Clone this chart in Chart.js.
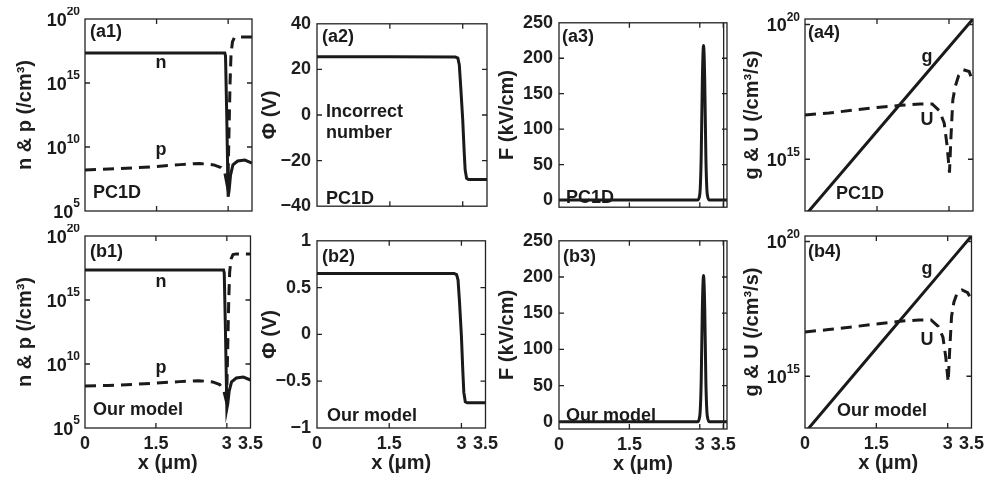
<!DOCTYPE html>
<html>
<head>
<meta charset="utf-8">
<script src="https://cdn.jsdelivr.net/npm/chart.js@4.4.1/dist/chart.umd.min.js"></script>
<style>
  body { margin: 0; width: 990px; height: 485px; overflow: hidden; background: #fff; position: relative; }
  canvas { position: absolute; }
</style>
</head>
<body>
<script>
// x ticks shared by every panel
const xTicks = [0, 1.5, 3, 3.5];

// (a1) PC1D carrier densities
const xA1n = [0, 1.5, 2.93, 2.945, 2.97, 3.0, 3.02, 3.05, 3.1, 3.2, 3.35, 3.5];
const nA1 = [2.2e17, 2.2e17, 2.2e17, 1.3e17, 4e12, 1.3e6, 4e6, 6.3e7, 4e8, 8e8, 9.5e8, 5.6e8];
const xA1p = [0, 0.5, 1.0, 1.5, 2.0, 2.4, 2.7, 2.85, 2.93, 2.97, 3.0, 3.02, 3.04, 3.06, 3.09, 3.13, 3.2, 3.5];
const pA1 = [1.6e8, 1.9e8, 2.3e8, 3.0e8, 4.2e8, 5.2e8, 4.0e8, 2.5e8, 1.0e8, 1.6e7, 1.0e8, 3.2e11, 1.0e15, 1.6e17, 1.6e18, 3.5e18, 4.0e18, 4.0e18];
// (b1) our model
const nB1 = [2.2e17, 2.2e17, 2.2e17, 1.3e17, 5e12, 3.2e6, 8e6, 8e7, 4e8, 8e8, 9.5e8, 5.6e8];
const pB1 = [1.9e8, 2.1e8, 2.5e8, 3.2e8, 4.2e8, 5.0e8, 4.0e8, 2.5e8, 1.0e8, 2.5e7, 1.0e8, 3.2e11, 1.0e15, 1.6e17, 1.6e18, 3.5e18, 4.0e18, 4.0e18];

// (a2)/(b2) potential
const xPhi = [0, 1.5, 2.85, 2.9, 2.93, 2.96, 3.0, 3.03, 3.05, 3.08, 3.12, 3.5];
const phiA2 = [25.5, 25.5, 25.4, 25.0, 22.0, 12.0, -2.0, -16.0, -24.0, -27.8, -28.3, -28.3];
const phiB2 = [0.65, 0.65, 0.65, 0.64, 0.58, 0.35, -0.02, -0.4, -0.62, -0.72, -0.73, -0.73];

// (a3)/(b3) field
const xF = [0, 2.95, 3.0, 3.03, 3.055, 3.08, 3.105, 3.13, 3.16, 3.21, 3.58];
const fA3 = [0, 0, 8, 60, 170, 218, 170, 60, 8, 0, 0];
const fB3 = [0, 0, 8, 55, 158, 202, 158, 55, 8, 0, 0];

// (a4)/(b4) generation and recombination
const xG = [0, 1.5, 3.0, 3.5];
const gA4 = [8.1e12, 1.1e16, 1.45e19, 1.6e20];
const xU = [0, 0.5, 1.0, 1.5, 2.0, 2.4, 2.65, 2.8, 2.9, 2.96, 3.01, 3.04, 3.08, 3.13, 3.2, 3.3, 3.42, 3.5];
const uA4 = [4.4e16, 5.2e16, 6.6e16, 8.3e16, 1.0e17, 1.12e17, 1.12e17, 6.3e16, 2.2e16, 3.2e15, 3.2e14, 6.3e15, 1.6e17, 5.0e17, 1.26e18, 2.1e18, 1.8e18, 7.1e17];
const uB4 = [4.4e16, 5.4e16, 6.8e16, 8.7e16, 1.1e17, 1.23e17, 1.23e17, 7.1e16, 2.8e16, 5.0e15, 6.2e14, 7.9e15, 1.6e17, 5.6e17, 1.26e18, 1.6e18, 1.26e18, 6.8e17];

const FONT = "'Liberation Sans', Arial, Helvetica, sans-serif";
Chart.defaults.font.family = FONT;
Chart.defaults.color = '#1e1e1e';
const INK = '#1a1a1a';

const signLabel = v => (v < 0 ? '\u2212' : '') + Math.abs(v);

function pts(xs, ys) { return xs.map((x, i) => ({ x: x, y: ys[i] })); }
function solid(xs, ys, extra) {
  return Object.assign({ data: pts(xs, ys), borderColor: INK, borderWidth: 3, pointRadius: 0, tension: 0 }, extra || {});
}
function dashed(xs, ys) {
  return solid(xs, ys, { borderDash: [11, 7], borderWidth: 3 });
}

// box, inward ticks, power-of-ten labels and in-plot labels
const framePlugin = {
  id: 'frame',
  afterDraw(chart, args, opts) {
    const { ctx, chartArea: a, scales } = chart;
    ctx.save();
    ctx.strokeStyle = '#222';
    ctx.lineWidth = 1.3;
    ctx.strokeRect(a.left, a.top, a.right - a.left, a.bottom - a.top);
    ctx.beginPath();
    scales.x.ticks.forEach(t => {
      const px = scales.x.getPixelForValue(t.value);
      if (px <= a.left + 1 || px >= a.right - 1) return;
      ctx.moveTo(px, a.bottom); ctx.lineTo(px, a.bottom - 5);
      ctx.moveTo(px, a.top); ctx.lineTo(px, a.top + 5);
    });
    scales.y.ticks.forEach(t => {
      const py = scales.y.getPixelForValue(t.value);
      if (py <= a.top + 1 || py >= a.bottom - 1) return;
      ctx.moveTo(a.left, py); ctx.lineTo(a.left + 5, py);
      ctx.moveTo(a.right, py); ctx.lineTo(a.right - 5, py);
    });
    ctx.stroke();
    ctx.fillStyle = INK;
    ctx.textBaseline = 'middle';
    if (opts.powers) {
      ctx.textAlign = 'right';
      scales.y.ticks.forEach(t => {
        const py = scales.y.getPixelForValue(t.value);
        const e = String(Math.round(Math.log10(t.value)));
        ctx.font = 'bold 12px ' + FONT;
        const ew = ctx.measureText(e).width;
        ctx.fillText(e, a.left - 5, py - 7);
        ctx.font = 'bold 18px ' + FONT;
        ctx.fillText('10', a.left - 5 - ew, py + 2);
      });
    }
    ctx.font = 'bold 18px ' + FONT;
    (opts.notes || []).forEach(n => {
      ctx.textAlign = n.c ? 'center' : 'left';
      ctx.fillText(n.t, a.left + n.x, a.top + n.y);
    });
    ctx.restore();
  }
};

function panel(p) {
  const W = p.left - p.titleX + 16;
  const padTop = 12, padRight = 16;
  const axisH = p.bottom ? 51 : 0;
  const padBottom = p.bottom ? 0 : 12;
  const isLog = p.yType === 'logarithmic';
  const cw = W + p.w + padRight, ch = padTop + p.h + axisH + padBottom;
  const cv = document.createElement('canvas');
  cv.width = cw; cv.height = ch;
  cv.style.left = (p.left - W) + 'px';
  cv.style.top = (p.top - padTop) + 'px';
  document.body.appendChild(cv);

  const xGrid = p.line35
    ? { display: true, drawTicks: false, lineWidth: 1.3, color: c => (c.tick && c.tick.value === 3.5 ? '#222' : 'rgba(0,0,0,0)') }
    : { display: false, drawTicks: false };

  new Chart(cv.getContext('2d'), {
    type: 'line',
    data: { datasets: p.datasets },
    options: {
      responsive: false,
      animation: false,
      devicePixelRatio: 1,
      layout: { padding: { top: padTop, right: padRight, bottom: padBottom, left: 0 } },
      plugins: { legend: { display: false }, tooltip: { enabled: false }, frame: { notes: p.notes, powers: isLog } },
      scales: {
        x: {
          type: 'linear', min: 0, max: p.xMax || 3.5,
          afterBuildTicks: s => { s.ticks = xTicks.map(v => ({ value: v })); },
          afterFit: s => { s.height = axisH; },
          ticks: { display: p.bottom, padding: 5, maxRotation: 0, autoSkip: false, font: { size: 18, weight: 'bold' } },
          grid: xGrid,
          border: { display: false },
          title: { display: p.bottom, text: 'x (μm)', font: { size: 20, weight: 'bold' }, padding: { top: 0, bottom: 4 } }
        },
        y: {
          type: p.yType, min: p.yMin, max: p.yMax,
          afterBuildTicks: s => { s.ticks = p.yTicks.map(v => ({ value: v })); },
          afterFit: s => { s.width = W; },
          ticks: { display: !isLog, padding: 6, autoSkip: false, font: { size: 18, weight: 'bold' }, callback: signLabel },
          grid: { display: false, drawTicks: false },
          border: { display: false },
          title: { display: true, text: p.title, font: { size: 20, weight: 'bold' }, padding: { top: 4, bottom: 0 } }
        }
      }
    },
    plugins: [framePlugin]
  });
}

const logTicks1 = [1e5, 1e10, 1e15, 1e20];
const logTicks4 = [1e15, 1e20];
const phiTicksA = [-40, -20, 0, 20, 40];
const phiTicksB = [-1, -0.5, 0, 0.5, 1];
const fTicks = [0, 50, 100, 150, 200, 250];

// top row: PC1D
panel({ left: 85, top: 19, w: 167, h: 192, titleX: 25, bottom: false,
  yType: 'logarithmic', yMin: 1e5, yMax: 1e20, yTicks: logTicks1, title: 'n & p (/cm³)',
  datasets: [dashed(xA1p, pA1), solid(xA1n, nA1)],
  notes: [{ t: '(a1)', x: 5, y: 13 }, { t: 'n', x: 76, y: 44, c: 1 }, { t: 'p', x: 76, y: 131, c: 1 }, { t: 'PC1D', x: 8, y: 174 }] });

panel({ left: 317, top: 19, w: 170, h: 192, titleX: 270, bottom: false,
  yType: 'linear', yMin: -40, yMax: 40, yTicks: phiTicksA, title: 'Φ (V)',
  datasets: [solid(xPhi, phiA2)],
  notes: [{ t: '(a2)', x: 5, y: 13 }, { t: 'Incorrect', x: 9, y: 88 }, { t: 'number', x: 9, y: 109 }, { t: 'PC1D', x: 9, y: 175 }] });

panel({ left: 559, top: 18, w: 168, h: 194, titleX: 507, bottom: false, xMax: 3.58, line35: true,
  yType: 'linear', yMin: -10, yMax: 250, yTicks: fTicks, title: 'F (kV/cm)',
  datasets: [solid(xF, fA3, { cubicInterpolationMode: 'monotone' })],
  notes: [{ t: '(a3)', x: 3, y: 14 }, { t: 'PC1D', x: 7, y: 175 }] });

panel({ left: 805, top: 19, w: 168, h: 192, titleX: 752, bottom: false,
  yType: 'logarithmic', yMin: 1.2e13, yMax: 1.6e20, yTicks: logTicks4, title: 'g & U (/cm³/s)',
  datasets: [dashed(xU, uA4), solid(xG, gA4)],
  notes: [{ t: '(a4)', x: 3, y: 14 }, { t: 'g', x: 122, y: 38, c: 1 }, { t: 'U', x: 122, y: 101, c: 1 }, { t: 'PC1D', x: 31, y: 175 }] });

// bottom row: our model
panel({ left: 85, top: 236, w: 167, h: 192, titleX: 25, bottom: true,
  yType: 'logarithmic', yMin: 1e5, yMax: 1e20, yTicks: logTicks1, title: 'n & p (/cm³)',
  datasets: [dashed(xA1p, pB1), solid(xA1n, nB1)],
  notes: [{ t: '(b1)', x: 5, y: 16 }, { t: 'n', x: 76, y: 46, c: 1 }, { t: 'p', x: 76, y: 132, c: 1 }, { t: 'Our model', x: 8, y: 174 }] });

panel({ left: 317, top: 236, w: 170, h: 192, titleX: 270, bottom: true,
  yType: 'linear', yMin: -1, yMax: 1, yTicks: phiTicksB, title: 'Φ (V)',
  datasets: [solid(xPhi, phiB2)],
  notes: [{ t: '(b2)', x: 5, y: 16 }, { t: 'Our model', x: 10, y: 175 }] });

panel({ left: 559, top: 236, w: 168, h: 193, titleX: 507, bottom: true, xMax: 3.58, line35: true,
  yType: 'linear', yMin: -10, yMax: 250, yTicks: fTicks, title: 'F (kV/cm)',
  datasets: [solid(xF, fB3, { cubicInterpolationMode: 'monotone' })],
  notes: [{ t: '(b3)', x: 4, y: 16 }, { t: 'Our model', x: 7, y: 175 }] });

panel({ left: 805, top: 236, w: 168, h: 192, titleX: 752, bottom: true,
  yType: 'logarithmic', yMin: 1.2e13, yMax: 1.6e20, yTicks: logTicks4, title: 'g & U (/cm³/s)',
  datasets: [dashed(xU, uB4), solid(xG, gA4)],
  notes: [{ t: '(b4)', x: 3, y: 16 }, { t: 'g', x: 122, y: 33, c: 1 }, { t: 'U', x: 122, y: 104, c: 1 }, { t: 'Our model', x: 32, y: 175 }] });
</script>
</body>
</html>
